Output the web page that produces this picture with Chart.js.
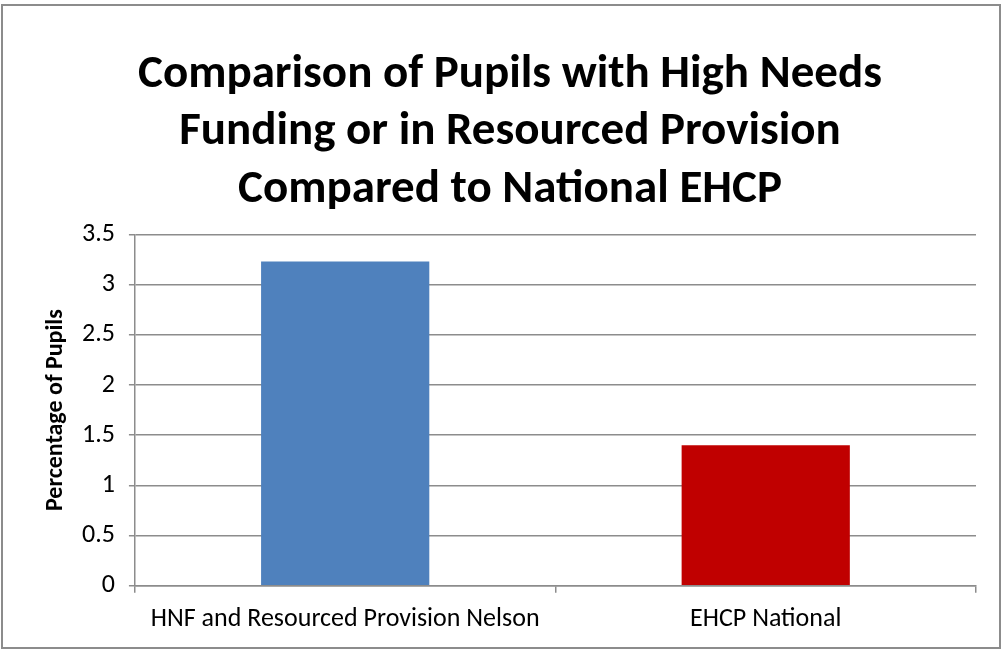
<html lang="en">
<head>
    <meta charset="UTF-8">
    <title>High Needs Funding comparison</title>
    <script src="https://cdn.jsdelivr.net/npm/chart.js@4.4.0/dist/chart.umd.min.js"></script>
    <style>
        html, body { margin: 0; padding: 0; background: #fff; }
        #wrap {
            position: absolute;
            left: 1px; top: 4px;
            width: 1000px; height: 645px;
            border: 2px solid #8c8c8c;
            box-sizing: border-box;
        }
    </style>
</head>
<body>
    <div id="wrap"><canvas id="graph"></canvas></div>

    <script>
        const categories = ['HNF and Resourced Provision Nelson', 'EHCP National'];
        const percentages = [3.23, 1.4];
        const barColours = ['#4f81bd', '#c00000'];
        const titleLines = [
            'Comparison of Pupils with High Needs',
            'Funding or in Resourced Provision',
            'Compared to National EHCP'
        ];
        const yAxisTitle = 'Percentage of Pupils';

        const fontFamily = 'Carlito, Calibri, Lato, sans-serif';
        const gridGrey = '#8c8c8c';

        const ctx = document.getElementById('graph').getContext('2d');
        const myChart = new Chart(ctx, {
            type: 'bar',
            data: {
                labels: categories,
                datasets: [{
                    data: percentages,
                    backgroundColor: barColours,
                    barPercentage: 0.4,
                    categoryPercentage: 1
                }]
            },
            options: {
                responsive: true,
                maintainAspectRatio: false,
                animation: false,
                layout: { padding: { left: 41, right: 23, top: 40, bottom: 1 } },
                plugins: {
                    legend: { display: false },
                    tooltip: { enabled: false },
                    title: {
                        display: true,
                        text: titleLines,
                        color: '#000',
                        font: { family: fontFamily, size: 47, weight: 'bold', lineHeight: 1.23 },
                        padding: { top: 0, bottom: 15 }
                    }
                },
                scales: {
                    x: {
                        grid: {
                            offset: true,
                            drawOnChartArea: false,
                            drawTicks: true,
                            tickLength: 7,
                            color: gridGrey,
                            lineWidth: 1.5
                        },
                        border: { display: true, color: gridGrey, width: 1.5 },
                        ticks: {
                            color: '#000',
                            font: { family: fontFamily, size: 26 },
                            padding: 11,
                            maxRotation: 0
                        }
                    },
                    y: {
                        min: 0,
                        max: 3.5,
                        ticks: {
                            stepSize: 0.5,
                            color: '#000',
                            font: { family: fontFamily, size: 26 },
                            padding: 14,
                            callback: value => String(value)
                        },
                        grid: {
                            color: gridGrey,
                            lineWidth: 1.5,
                            tickLength: 6
                        },
                        border: { display: true, color: gridGrey, width: 1.5 },
                        title: {
                            display: true,
                            text: yAxisTitle,
                            color: '#000',
                            font: { family: fontFamily, size: 24, weight: 'bold', lineHeight: 1 },
                            padding: 0
                        }
                    }
                }
            }
        });
    </script>
</body>
</html>
